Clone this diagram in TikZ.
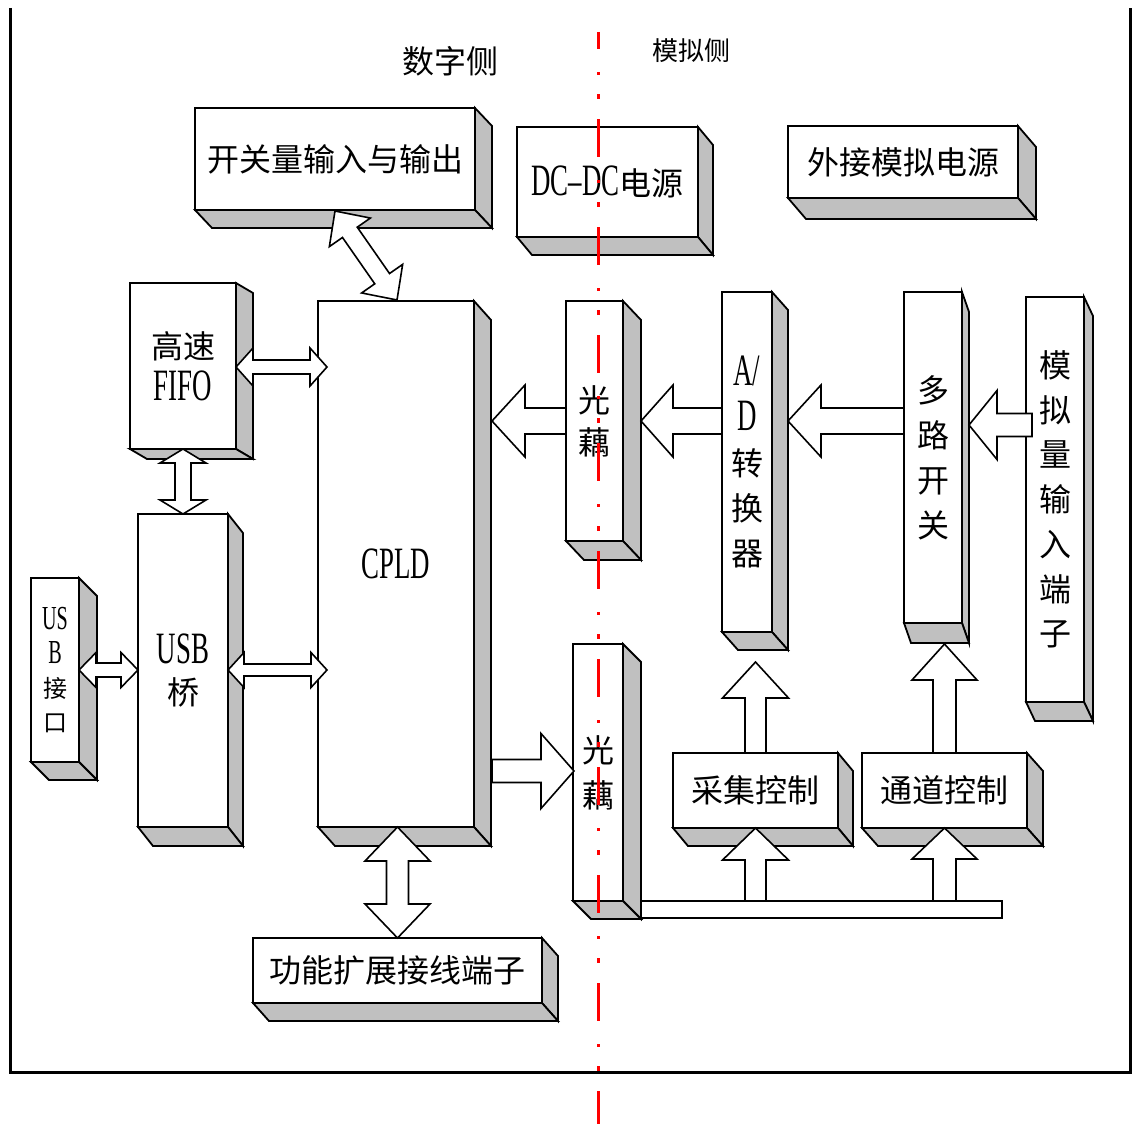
\documentclass[tikz,border=0pt]{standalone}
\usepackage{fontspec}
\setmainfont{Noto Sans CJK SC}
\newfontfamily\lat[FakeStretch=0.6,Scale=1.4]{Liberation Serif}
\usetikzlibrary{calc}
\definecolor{facegray}{RGB}{192,192,192}
\newcommand\fsz[2]{\fontsize{#1}{#2}\selectfont}
% name x1 y1 x2 y2 dx dy font text
\newcommand\bx[9]{%
  \node[front, font=#8, minimum width={(#4-#2)*1pt}, minimum height={(#5-#3)*1pt}] (#1) at ({(#2+#4)/2},{(#3+#5)/2}) {#9};
  \draw[face] (#1.north east) -- ++(#6,#7) -- ($(#1.south east)+(#6,#7)$) -- (#1.south east) -- cycle;
  \draw[face] (#1.south west) -- ++(#6,#7) -- ($(#1.south east)+(#6,#7)$) -- (#1.south east) -- cycle;
}
% double block arrow: P Q headlen headhalf shafthalf
\newcommand\dblarrow[5]{%
  \draw[blk] (#1)
   -- ($(#1)!#3pt!(#2)!#4pt!90:(#2)$)
   -- ($(#1)!#3pt!(#2)!#5pt!90:(#2)$)
   -- ($(#2)!#3pt!(#1)!#5pt!-90:(#1)$)
   -- ($(#2)!#3pt!(#1)!#4pt!-90:(#1)$)
   -- (#2)
   -- ($(#2)!#3pt!(#1)!#4pt!90:(#1)$)
   -- ($(#2)!#3pt!(#1)!#5pt!90:(#1)$)
   -- ($(#1)!#3pt!(#2)!#5pt!-90:(#2)$)
   -- ($(#1)!#3pt!(#2)!#4pt!-90:(#2)$)
   -- cycle;}
% single block arrow: tail tip headlen headhalf shafthalf
\newcommand\sglarrow[5]{%
  \draw[blk] ($(#1)!#5pt!90:(#2)$)
   -- ($(#2)!#3pt!(#1)!#5pt!-90:(#1)$)
   -- ($(#2)!#3pt!(#1)!#4pt!-90:(#1)$)
   -- (#2)
   -- ($(#2)!#3pt!(#1)!#4pt!90:(#1)$)
   -- ($(#2)!#3pt!(#1)!#5pt!90:(#1)$)
   -- ($(#1)!#5pt!-90:(#2)$)
   -- cycle;}
\tikzset{
  front/.style={draw, fill=white, line width=1.8pt, inner sep=0pt, outer sep=0pt, align=center, text=black},
  face/.style={draw, fill=facegray, line width=1.8pt, line join=miter},
  blk/.style={draw, fill=white, line width=1.6pt, line join=miter},
  frameline/.style={line width=3pt},
  divider/.style={red, line width=3pt, dash pattern=on 38pt off 23pt on 3pt off 19pt on 5pt off 20pt, dash phase=21pt},
  lbl/.style={inner sep=0pt, text=black}
}
\begin{document}
\begin{tikzpicture}[x=1pt,y=-1pt]
\useasboundingbox (0,0) rectangle (1134,1124);
% frame
\draw[frameline] (10,8) -- (10,1072) -- (1130,1072) -- (1130,8);
% labels
\node[lbl, font=\fsz{32}{40}] (dig) at (450,61) {数字侧};
\node[lbl, font=\fsz{26}{32}] (ana) at (691,51) {模拟侧};
% boxes
\bx{kg}{195}{108}{475}{210}{17}{18}{\fsz{32}{42}}{开关量输入与输出}
\bx{dc}{517}{127}{698}{237}{15}{18}{\fsz{32}{42}}{{\lat DC–DC}电源}
\bx{ext}{788}{126}{1018}{198}{18}{21}{\fsz{32}{42}}{外接模拟电源}
\bx{fifo}{130}{283}{236}{449}{17}{10}{\fsz{32}{42}}{高速\\{\lat FIFO}}
\bx{cpld}{318}{301}{474}{827}{17}{19}{\fsz{32}{42}}{{\lat CPLD}}
\bx{usbq}{138}{514}{228}{827}{15}{19}{\fsz{32}{41}}{{\lat USB}\\桥}
\bx{usbk}{31}{578}{79}{762}{18}{18}{\fsz{24}{34}}{{\lat US}\\{\lat B}\\接\\口}
\bx{oc1}{566}{301}{623}{541}{18}{19}{\fsz{32}{42}}{光\\藕}
\bx{ad}{722}{292}{772}{632}{16}{18}{\fsz{32}{45}}{{\lat A/}\\{\lat D}\\转\\换\\器}
\bx{mux}{904}{292}{962}{623}{7}{20}{\fsz{32}{45}}{多\\路\\开\\关}
\bx{ain}{1026}{297}{1084}{702}{9}{19}{\fsz{32}{44.7}}{模\\拟\\量\\输\\入\\端\\子}
\bx{oc2}{573}{644}{623}{901}{18}{18}{\fsz{32}{45}}{光\\藕}
\bx{acq}{673}{753}{838}{828}{15}{18}{\fsz{32}{42}}{采集控制}
\bx{chn}{862}{753}{1027}{828}{16}{18}{\fsz{32}{42}}{通道控制}
\bx{fx}{253}{938}{542}{1003}{16}{18}{\fsz{32}{42}}{功能扩展接线端子}
% bus bar
\node[draw, fill=white, line width=1.8pt, inner sep=0pt, outer sep=0pt, minimum width=361pt, minimum height=17pt] (bus) at (821.5,909.5) {};
% arrows
\coordinate (p1) at ($(kg.south west)+(140,1)$);
\coordinate (p2) at ($(cpld.north west)+(79,-1)$);
\dblarrow{p1}{p2}{26}{25}{9}
\coordinate (b1) at (fifo.east |- 0,367);
\coordinate (b2) at ($(cpld.west |- b1)+(9,0)$);
\dblarrow{b1}{b2}{17}{19}{7}
\coordinate (c1) at (fifo.south);
\coordinate (c2) at (fifo.south |- usbq.north);
\dblarrow{c1}{c2}{14}{23}{8}
\coordinate (d1) at (usbk.east);
\coordinate (d2) at (usbq.west |- usbk.east);
\dblarrow{d1}{d2}{17}{17.5}{7}
\coordinate (e1) at (usbq.east |- usbk.east);
\coordinate (e2) at ($(cpld.west |- usbk.east)+(9,0)$);
\dblarrow{e1}{e2}{16}{17.5}{6}
\coordinate (f1) at (oc1.west);
\coordinate (f2) at ($(cpld.east |- oc1.west)+(18,0)$);
\sglarrow{f1}{f2}{33}{36}{13}
\coordinate (g1) at (ad.west |- oc1.west);
\coordinate (g2) at ($(oc1.east)+(18,0)$);
\sglarrow{g1}{g2}{32}{36}{13}
\coordinate (h1) at (mux.west |- oc1.west);
\coordinate (h2) at ($(ad.east |- oc1.west)+(16,0)$);
\sglarrow{h1}{h2}{33}{36}{13}
\coordinate (i1) at ($(ain.west |- 0,425)+(6,0)$);
\coordinate (i2) at ($(mux.east |- i1)+(7,0)$);
\sglarrow{i1}{i2}{28}{34.5}{11.5}
\coordinate (j1) at ($(cpld.east |- 0,771)+(18,0)$);
\coordinate (j2) at ($(oc2.west |- j1)+(1,0)$);
\sglarrow{j1}{j2}{33}{37.5}{11.5}
\coordinate (k1) at (acq.north);
\coordinate (k2) at ($(acq.north |- ad.south)+(0,30)$);
\sglarrow{k1}{k2}{36}{33}{10.5}
\coordinate (l1) at (chn.north);
\coordinate (l2) at ($(chn.north |- mux.south)+(0,21)$);
\sglarrow{l1}{l2}{36}{32.5}{11.5}
\coordinate (m1) at (acq.south |- bus.north);
\coordinate (m2) at (acq.south);
\sglarrow{m1}{m2}{32}{33}{10.5}
\coordinate (n1) at (chn.south |- bus.north);
\coordinate (n2) at (chn.south);
\sglarrow{n1}{n2}{31}{32.5}{11.5}
\coordinate (o1) at (fx.north |- cpld.south);
\coordinate (o2) at (fx.north);
\dblarrow{o1}{o2}{34}{32.5}{11}
% divider
\coordinate (divtop) at (598,32);
\coordinate (divbot) at (598,1124);
\draw[divider] (divtop) -- (divbot);
\end{tikzpicture}
\end{document}
